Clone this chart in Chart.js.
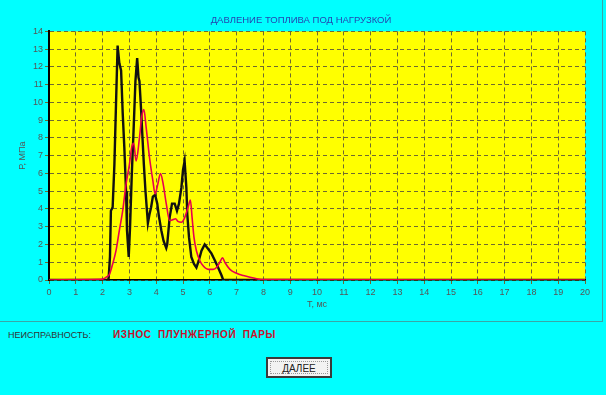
<!DOCTYPE html>
<html>
<head>
<meta charset="utf-8">
<script src="https://cdn.jsdelivr.net/npm/chart.js@4.4.1/dist/chart.umd.min.js"></script>
<style>
  html, body { margin: 0; padding: 0; background: #00ffff; }
  body { width: 606px; height: 395px; position: relative; overflow: hidden; font-family: "Liberation Sans", Arial, sans-serif; }
  #wrap { position: absolute; left: 0; top: 0; width: 606px; height: 322px; }
  #frame { position: absolute; left: 0; top: 0; width: 602px; height: 321px; border-right: 1px solid #3aa6a6; border-bottom: 1px solid #3aa6a6; }
  #fault { position: absolute; left: 8px; top: 330px; font-size: 9px; color: #333; }
  #cause { position: absolute; left: 113px; top: 329px; font-size: 10px; font-weight: bold; color: #c8102a; letter-spacing: 0.6px; word-spacing: 3px; }
  #next { position: absolute; left: 266px; top: 357px; width: 62px; height: 17px; background: #f2f2f2; border: 2px solid #3a3a3a; font-size: 10px; color: #222; text-align: center; line-height: 17px; }
  #next span { display: block; position: absolute; left: 2px; top: 2px; right: 2px; bottom: 2px; border: 1px dotted #999; line-height: 13px; }
</style>
</head>
<body>
<div id="frame"></div>
<div id="wrap"><canvas id="pressureChart" width="606" height="322"></canvas></div>
<div id="fault">НЕИСПРАВНОСТЬ:</div>
<div id="cause">ИЗНОС ПЛУНЖЕРНОЙ ПАРЫ</div>
<div id="next"><span>ДАЛЕЕ</span></div>
<script>
// measured trace (black)
const timeMeasured = [0, 2.2, 2.225, 2.275, 2.31, 2.375, 2.44, 2.5, 2.56, 2.625, 2.69, 2.75, 2.81, 2.875, 2.91, 2.975,
  3.025, 3.09, 3.15, 3.225, 3.29, 3.34, 3.375, 3.44, 3.475, 3.54, 3.6, 3.69, 3.75, 3.81, 3.875, 3.96,
  4.04, 4.1, 4.19, 4.275, 4.375, 4.41, 4.5, 4.59, 4.69, 4.775, 4.85, 4.94, 5.0, 5.06, 5.125, 5.16, 5.225,
  5.31, 5.41, 5.5, 5.59, 5.69, 5.81, 5.94, 6.06, 6.19, 6.31, 6.44, 6.5, 20];
const pressureMeasured = [0, 0, 0.1, 1.3, 3.9, 4.1, 6.5, 9.9, 13.2, 12.2, 11.8, 9.4, 7.5, 5.0, 2.8, 1.3,
  3.0, 6.0, 8.2, 11.2, 12.5, 11.4, 11.2, 9.5, 8.4, 6.5, 5.0, 3.2, 3.7, 4.1, 4.7, 4.8,
  4.3, 3.6, 2.8, 2.2, 1.8, 2.0, 3.5, 4.3, 4.3, 3.9, 4.3, 5.2, 6.2, 6.7, 5.2, 3.7, 2.4,
  1.3, 0.9, 0.7, 1.1, 1.65, 2.0, 1.75, 1.5, 1.1, 0.7, 0.25, 0, 0];

// reference trace (red)
const timeReference = [0, 1.5, 2.0, 2.125, 2.25, 2.375, 2.5, 2.625, 2.75, 2.875, 3.0, 3.09, 3.16, 3.25, 3.375,
  3.46, 3.54, 3.625, 3.75, 3.875, 3.96, 4.06, 4.16, 4.25, 4.375, 4.5, 4.625, 4.725, 4.81, 4.94, 5.06,
  5.19, 5.275, 5.34, 5.41, 5.5, 5.625, 5.75, 5.94, 6.125, 6.25, 6.375, 6.475, 6.56, 6.75, 7.0, 7.25,
  7.5, 7.75, 8.0, 20];
const pressureReference = [0, 0.03, 0.05, 0.15, 0.3, 0.9, 1.65, 2.8, 3.9, 5.4, 6.5, 7.5, 7.7, 6.7, 8.0,
  9.2, 9.6, 8.6, 6.9, 5.6, 4.85, 5.4, 6.0, 5.5, 4.3, 3.35, 3.4, 3.45, 3.3, 3.25, 3.5,
  4.1, 4.5, 3.5, 2.4, 1.65, 1.1, 0.8, 0.6, 0.6, 0.7, 1.0, 1.25, 1.0, 0.6, 0.38, 0.25,
  0.15, 0.07, 0.02, 0];

const xTicks = [0, 20];
const yTicks = [0, 14];

const toPoints = (xs, ys) => xs.map((x, i) => ({ x, y: ys[i] }));

// yellow plot background
const plotBg = {
  id: 'plotBg',
  beforeDraw(chart) {
    const { ctx, chartArea: a } = chart;
    ctx.save();
    ctx.fillStyle = '#ffff00';
    ctx.fillRect(a.left, a.top, a.right - a.left, a.bottom - a.top);
    ctx.restore();
  }
};

const tickFont = { family: '"Liberation Sans", Arial, sans-serif', size: 9 };

new Chart(document.getElementById('pressureChart'), {
  type: 'line',
  data: {
    datasets: [
      {
        data: toPoints(timeReference, pressureReference),
        borderColor: '#e8004e',
        borderWidth: 1.6,
        pointRadius: 0,
        cubicInterpolationMode: 'monotone',
        fill: false
      },
      {
        data: toPoints(timeMeasured, pressureMeasured),
        borderColor: '#111111',
        borderWidth: 2.4,
        pointRadius: 0,
        tension: 0,
        fill: false
      }
    ]
  },
  options: {
    responsive: false,
    animation: false,
    layout: { padding: { left: 17, right: 21, top: 0, bottom: 0 } },
    plugins: {
      legend: { display: false },
      tooltip: { enabled: false },
      title: {
        display: true,
        text: 'ДАВЛЕНИЕ ТОПЛИВА ПОД НАГРУЗКОЙ',
        color: '#2446b0',
        font: { family: '"Liberation Sans", Arial, sans-serif', size: 9.5, weight: 'normal' },
        padding: { top: 15, bottom: 5 }
      }
    },
    scales: {
      x: {
        type: 'linear',
        min: xTicks[0],
        max: xTicks[1],
        ticks: { stepSize: 1, color: '#555', font: tickFont, padding: 3, maxRotation: 0 },
        grid: { color: '#6f6a30', lineWidth: 1, tickLength: 4 },
        border: { color: '#000', width: 1.5, dash: [4, 3] },
        title: { display: true, text: 'Т, мс', color: '#555', font: tickFont, padding: { top: 0, bottom: 12 } },
        afterFit: (s) => { s.height = 42; }
      },
      y: {
        min: yTicks[0],
        max: yTicks[1],
        ticks: { stepSize: 1, color: '#555', font: tickFont, padding: 2 },
        grid: { color: '#6f6a30', lineWidth: 1, tickLength: 4 },
        border: { color: '#000', width: 2, dash: [4, 3] },
        title: { display: true, text: 'Р, МПа', color: '#555', font: tickFont, padding: { top: 0, bottom: 0 } },
        afterFit: (s) => { s.width = 32; }
      }
    }
  },
  plugins: [plotBg]
});
</script>
</body>
</html>
